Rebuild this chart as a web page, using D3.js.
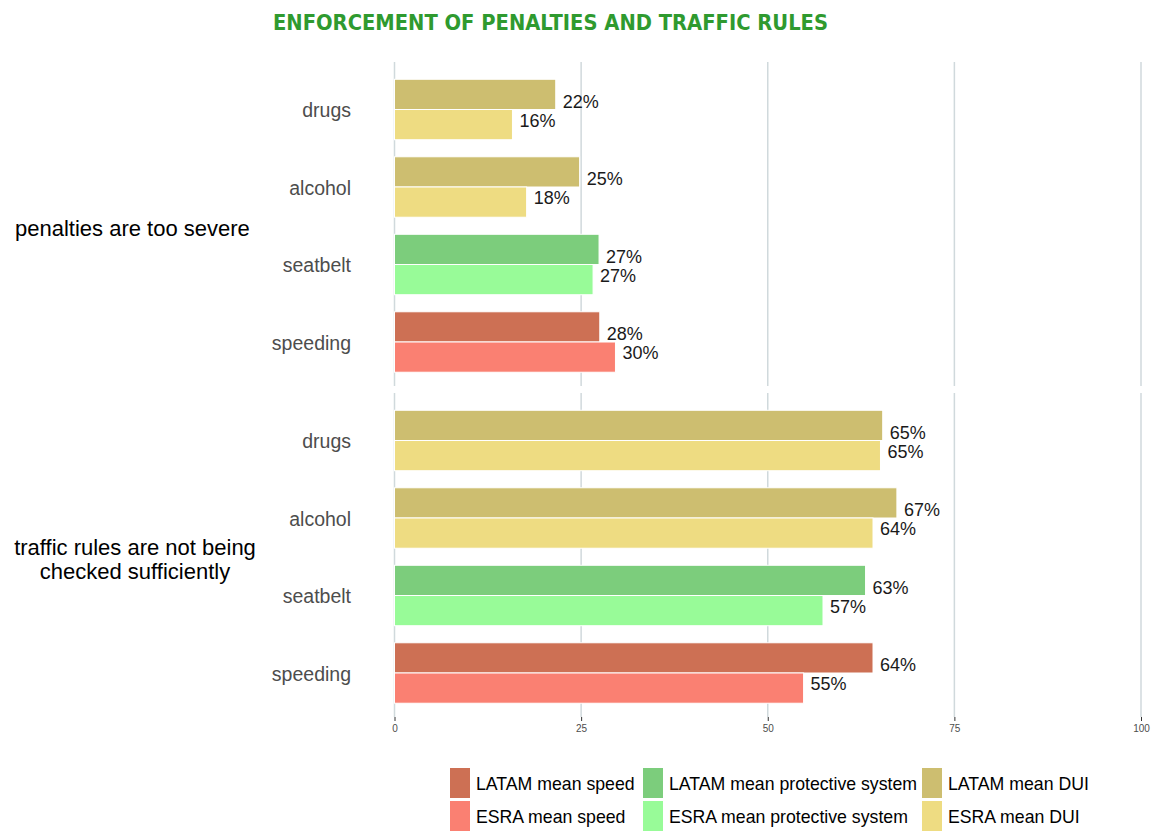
<!DOCTYPE html>
<html>
<head>
<meta charset="utf-8">
<script src="https://cdn.jsdelivr.net/npm/d3@7"></script>
<style>
  html, body { margin: 0; padding: 0; background: #fff; }
  svg { display: block; }
</style>
</head>
<body>
<svg id="chart" width="1154" height="831"></svg>
<script>
// ---- data ----
const title = "ENFORCEMENT OF PENALTIES AND TRAFFIC RULES";
const categories = ["drugs", "alcohol", "seatbelt", "speeding"];
const panels = ["penalties are too severe", "traffic rules are not being checked sufficiently"];
const panelLines = [["penalties are too severe"], ["traffic rules are not being", "checked sufficiently"]];
const sources = ["LATAM", "ESRA"];
// values per panel, in category order
const latamPenalties = [21.6, 24.8, 27.4, 27.5];
const esraPenalties  = [15.8, 17.7, 26.6, 29.6];
const latamTraffic   = [65.4, 67.3, 63.1, 64.1];
const esraTraffic    = [65.1, 64.1, 57.4, 54.8];
const xTicks = [0, 25, 50, 75, 100];
const legendLabels = [
  ["LATAM mean speed", "LATAM mean protective system", "LATAM mean DUI"],
  ["ESRA mean speed", "ESRA mean protective system", "ESRA mean DUI"]
];
const colors = {
  speeding: ["#CD7054", "#FA8072"],
  seatbelt: ["#7CCD7C", "#98FB98"],
  alcohol:  ["#CDBE70", "#EEDC82"],
  drugs:    ["#CDBE70", "#EEDC82"]
};
const legendColors = [
  ["#CD7054", "#7CCD7C", "#CDBE70"],
  ["#FA8072", "#98FB98", "#EEDC82"]
];

const panelValues = [[latamPenalties, esraPenalties], [latamTraffic, esraTraffic]];

// ---- layout ----
const svg = d3.select("#chart");
const font = "'Liberation Sans', Arial, sans-serif";
const x = d3.scaleLinear().domain([0, 100]).range([394.5, 1141]);
const gridRanges = [[62, 386], [393, 717]];
const bandRanges = [[63, 388.5], [394, 719.5]];
const barFrac = 0.39;

// title
svg.append("text")
  .attr("x", 273).attr("y", 30)
  .attr("textLength", 555).attr("lengthAdjust", "spacingAndGlyphs")
  .attr("font-family", "'DejaVu Sans', Verdana, sans-serif")
  .attr("font-weight", "bold").attr("font-size", 22)
  .attr("fill", "#2F9A2F")
  .text(title);

panels.forEach((p, pi) => {
  const [gTop, gBottom] = gridRanges[pi];
  const [top, bottom] = bandRanges[pi];
  const y = d3.scalePoint().domain(categories).range([top, bottom]).padding(0.6);
  const step = y.step();
  const g = svg.append("g");

  // gridlines
  g.selectAll("line.grid").data(xTicks).enter().append("line")
    .attr("x1", d => x(d)).attr("x2", d => x(d))
    .attr("y1", gTop).attr("y2", gBottom)
    .attr("stroke", "#D0D9DC").attr("stroke-width", 1.5);

  const rows = [];
  categories.forEach((c, ci) => {
    sources.forEach((s, si) => {
      rows.push({cat: c, src: si, v: panelValues[pi][si][ci]});
    });
  });

  const bh = step * barFrac;
  g.selectAll("rect.bar").data(rows).enter().append("rect")
    .attr("x", x(0))
    .attr("y", d => y(d.cat) - bh + d.src * bh)
    .attr("width", d => x(d.v) - x(0))
    .attr("height", bh)
    .attr("fill", d => colors[d.cat][d.src])
    .attr("stroke", "#ffffff").attr("stroke-width", 1);

  g.selectAll("text.val").data(rows).enter().append("text")
    .attr("x", d => x(d.v) + 7)
    .attr("y", d => y(d.cat) + (d.src === 0 ? -8.2 : 10.8))
    .attr("dy", "0.36em")
    .attr("font-family", font).attr("font-size", 18)
    .attr("fill", "#1a1a1a")
    .text(d => Math.round(d.v) + "%");

  // category labels
  g.selectAll("text.cat").data(categories).enter().append("text")
    .attr("x", 351).attr("y", d => y(d) + 1.5)
    .attr("dy", "0.32em")
    .attr("text-anchor", "end")
    .attr("font-family", font).attr("font-size", 19.5)
    .attr("fill", "#4D4D4D")
    .text(d => d);

  // panel (strip) label on left
  const lines = panelLines[pi];
  const cy = (gTop + gBottom) / 2 + 4;
  const lh = 24;
  const t = g.append("text")
    .attr("font-family", font).attr("font-size", 22)
    .attr("fill", "#000")
    .attr("text-anchor", lines.length > 1 ? "middle" : "start");
  lines.forEach((ln, li) => {
    t.append("tspan")
      .attr("x", lines.length > 1 ? 135 : 15)
      .attr("y", cy + (li - (lines.length - 1) / 2) * lh)
      .attr("dy", "0.35em")
      .text(ln);
  });

  // x axis only on bottom panel
  if (pi === panels.length - 1) {
    const ax = svg.append("g").attr("transform", `translate(0,${gBottom})`)
      .call(d3.axisBottom(x).tickValues(xTicks).tickSize(4).tickPadding(4));
    ax.select(".domain").remove();
    ax.selectAll(".tick line").attr("stroke", "#333").attr("stroke-width", 1);
    ax.selectAll(".tick text")
      .attr("font-family", "'Liberation Sans Narrow', 'Liberation Sans', Arial, sans-serif")
      .attr("font-size", 10).attr("fill", "#4D4D4D");
  }
});

// legend
const colX = [450, 643, 922];
const rowY = [768, 801];
legendLabels.forEach((row, ri) => {
  row.forEach((lab, ci) => {
    svg.append("rect")
      .attr("x", colX[ci]).attr("y", rowY[ri])
      .attr("width", 20).attr("height", 30)
      .attr("fill", legendColors[ri][ci]);
    svg.append("text")
      .attr("x", colX[ci] + 26).attr("y", rowY[ri] + 16)
      .attr("dy", "0.35em")
      .attr("font-family", font).attr("font-size", 17.7)
      .attr("fill", "#000")
      .text(lab);
  });
});
</script>
</body>
</html>
